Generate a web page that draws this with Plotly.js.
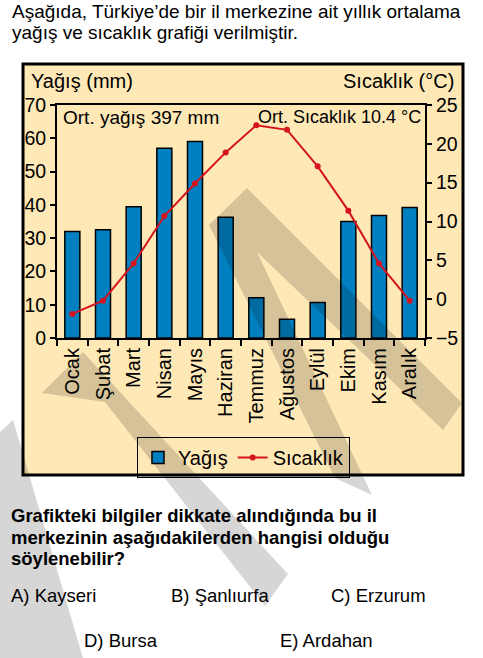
<!DOCTYPE html>
<html>
<head>
<meta charset="utf-8">
<script src="https://cdn.plot.ly/plotly-3.0.1.min.js"></script>
<style>
html,body{margin:0;padding:0;background:#fff;}
#chart{width:483px;height:658px;}
</style>
</head>
<body>
<div id="chart"></div>
<script>
// ---- data ----
const months = ['Ocak','Şubat','Mart','Nisan','Mayıs','Haziran','Temmuz','Ağustos','Eylül','Ekim','Kasım','Aralık'];
const yagis = [32, 32.5, 39.4, 57, 59, 36.3, 12.1, 5.6, 10.7, 35, 36.8, 39.2];
const sicaklik = [-1.9, -0.2, 4.6, 10.7, 14.9, 18.9, 22.4, 21.8, 17.1, 11.4, 4.6, -0.2];
const yagisTicks = [0,10,20,30,40,50,60,70];
const sicaklikTicks = [-5,0,5,10,15,20,25];

// ---- layout helpers (pixel -> paper) ----
const W = 483, H = 658;
const px = x => x / W;
const py = y => 1 - y / H;
const FONT = 'Liberation Sans, Arial, Helvetica, sans-serif';

function ann(text, x, y, size, xanchor, bold) {
  return {
    text: bold ? '<b>' + text + '</b>' : text,
    xref: 'paper', yref: 'paper', x: px(x), y: py(y),
    xanchor: xanchor || 'left', yanchor: 'middle',
    showarrow: false, font: {family: FONT, size: size, color: '#000'}
  };
}
function poly(pts) {
  return {
    type: 'path', xref: 'paper', yref: 'paper', layer: 'above',
    path: 'M' + pts.map(p => px(p[0]).toFixed(5) + ',' + py(p[1]).toFixed(5)).join('L') + 'Z',
    fillcolor: 'rgba(0,0,0,0.16)', line: {width: 0}
  };
}

const traces = [
  {
    type: 'bar', name: 'Yağış', x: months, y: yagis,
    marker: {color: '#0080C0', line: {color: '#000', width: 1.5}},
    xaxis: 'x', yaxis: 'y'
  },
  {
    type: 'scatter', mode: 'lines+markers', name: 'Sıcaklık', x: months, y: sicaklik,
    line: {color: '#D4141E', width: 2}, marker: {color: '#D4141E', size: 6},
    xaxis: 'x', yaxis: 'y2'
  }
];

// watermark outlines (page pixels)
const wmRight = [[247,188],[462,403],[443,430],[257,252],[372,495],[335,478],[209,225]];
const wmLeft = [[83,352],[288,574],[265,606],[105,402],[42,393]];
const wmEdge = [[13,420],[83,658],[0,658],[0,432]];

const layout = {
  width: W, height: H,
  margin: {l: 0, r: 0, t: 0, b: 0},
  paper_bgcolor: '#fff', plot_bgcolor: 'rgba(0,0,0,0)',
  font: {family: FONT, color: '#000'},
  bargap: 0.51,
  showlegend: true,
  legend: {
    orientation: 'h', x: px(137), y: py(437), xanchor: 'left', yanchor: 'top',
    bgcolor: 'rgba(0,0,0,0)', bordercolor: '#000', borderwidth: 1,
    font: {family: FONT, size: 20}, itemwidth: 30
  },
  xaxis: {
    domain: [px(57), px(425)], type: 'category', range: [-0.5, 11.5],
    tickson: 'boundaries', ticks: 'outside', ticklen: 6, tickwidth: 2, tickcolor: '#000',
    tickangle: -90, tickfont: {family: FONT, size: 20},
    showline: true, mirror: true, linewidth: 2, linecolor: '#000', showgrid: false, fixedrange: true
  },
  yaxis: {
    domain: [py(338), py(105)], range: [0, 70], tickvals: yagisTicks,
    ticks: 'outside', ticklen: 5, tickwidth: 2, tickcolor: '#000',
    tickfont: {family: FONT, size: 19.5},
    showline: true, linewidth: 2, linecolor: '#000', showgrid: false, zeroline: false
  },
  yaxis2: {
    overlaying: 'y', side: 'right', range: [-5, 25], tickvals: sicaklikTicks,
    ticks: 'outside', ticklen: 5, tickwidth: 2, tickcolor: '#000',
    tickfont: {family: FONT, size: 19.5},
    showline: true, linewidth: 2, linecolor: '#000', showgrid: false, zeroline: false
  },
  shapes: [
    {type: 'rect', xref: 'paper', yref: 'paper', layer: 'below',
     x0: px(23), x1: px(463), y0: py(475), y1: py(64),
     fillcolor: '#FEE8B6', line: {color: '#000', width: 3}},
    poly(wmRight),
    poly(wmLeft),
    poly(wmEdge)
  ],
  annotations: [
    ann('Aşağıda, Türkiye’de bir il merkezine ait yıllık ortalama', 10, 11, 19),
    ann('yağış ve sıcaklık grafiği verilmiştir.', 10, 32, 19),
    ann('Yağış (mm)', 29, 81, 20),
    ann('Sıcaklık (°C)', 456, 81, 20, 'right'),
    ann('Ort. yağış 397 mm', 61, 117, 19),
    ann('Ort. Sıcaklık 10.4 °C', 423, 117, 18, 'right'),
    ann('Grafikteki bilgiler dikkate alındığında bu il', 9, 515, 18.5, 'left', true),
    ann('merkezinin aşağıdakilerden hangisi olduğu', 9, 537, 18.5, 'left', true),
    ann('söylenebilir?', 9, 558, 18.5, 'left', true),
    ann('A) Kayseri', 9, 595, 18.5),
    ann('B) Şanlıurfa', 169, 595, 18.5),
    ann('C) Erzurum', 329, 595, 18.5),
    ann('D) Bursa', 82, 640, 18.5),
    ann('E) Ardahan', 278, 640, 18.5)
  ]
};

Plotly.newPlot('chart', traces, layout, {staticPlot: true, displayModeBar: false});
</script>
</body>
</html>
